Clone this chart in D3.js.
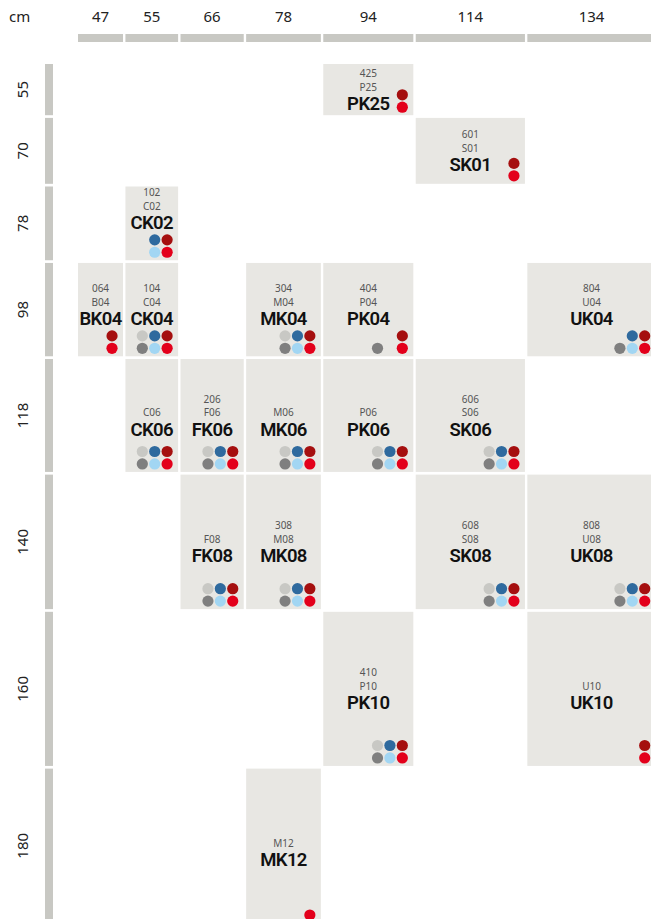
<!DOCTYPE html>
<html lang="en">
<head>
<meta charset="UTF-8">
<title>Sizes grid</title>
<script src="https://d3js.org/d3.v7.min.js"></script>
<style>
    body { margin: 0; background: #fff; font-family: "Noto Sans", sans-serif; }
    svg { display: block; }
</style>
</head>
<body>
<div id="chart"></div>
<script>
    // widths (columns) and heights (rows), in cm
    const colSizes = [47, 55, 66, 78, 94, 114, 134];
    const rowSizes = [55, 70, 78, 98, 118, 140, 160, 180];

    // one entry per cell
    const cellCol = [94, 114, 55, 47, 55, 78, 94, 134, 55, 66, 78, 94, 114, 66, 78, 114, 134, 94, 134, 78];
    const cellRow = [55, 70, 78, 98, 98, 98, 98, 98, 118, 118, 118, 118, 118, 140, 140, 140, 140, 160, 160, 180];
    const cellName = ["PK25", "SK01", "CK02", "BK04", "CK04", "MK04", "PK04", "UK04", "CK06", "FK06",
        "MK06", "PK06", "SK06", "FK08", "MK08", "SK08", "UK08", "PK10", "UK10", "MK12"];
    const cellCode = ["P25", "S01", "C02", "B04", "C04", "M04", "P04", "U04", "C06", "F06",
        "M06", "P06", "S06", "F08", "M08", "S08", "U08", "P10", "U10", "M12"];
    const cellNumber = ["425", "601", "102", "064", "104", "304", "404", "804", "", "206",
        "", "", "606", "", "308", "608", "808", "410", "", ""];
    // availability dots: [light grey, dark blue, dark red, dark grey, light blue, red]
    const cellDots = [
        [0, 0, 1, 0, 0, 1], [0, 0, 1, 0, 0, 1], [0, 1, 1, 0, 1, 1], [0, 0, 1, 0, 0, 1],
        [1, 1, 1, 1, 1, 1], [1, 1, 1, 1, 1, 1], [0, 0, 1, 1, 0, 1], [0, 1, 1, 1, 1, 1],
        [1, 1, 1, 1, 1, 1], [1, 1, 1, 1, 1, 1], [1, 1, 1, 1, 1, 1], [1, 1, 1, 1, 1, 1],
        [1, 1, 1, 1, 1, 1], [1, 1, 1, 1, 1, 1], [1, 1, 1, 1, 1, 1], [1, 1, 1, 1, 1, 1],
        [1, 1, 1, 1, 1, 1], [1, 1, 1, 1, 1, 1], [0, 0, 1, 0, 0, 1], [0, 0, 0, 0, 0, 1]
    ];

    const width = 651, height = 919;
    const x0 = 78, y0 = 64, colGap = 2.4, rowGap = 2.7;
    const dotColors = ["#c8c8c4", "#2f6a9e", "#a50f0f", "#7f7f7f", "#a2d6f3", "#e3001b"];

    const cmX = d3.scaleLinear().domain([0, 100]).range([0, 95.8]);
    const cmY = d3.scaleLinear().domain([0, 100]).range([0, 98]);

    // cumulative positions
    const colX = {}, rowY = {};
    let acc = x0;
    colSizes.forEach(c => { colX[c] = acc; acc += cmX(c) + colGap; });
    acc = y0;
    rowSizes.forEach(r => { rowY[r] = acc; acc += cmY(r); });
    const rowH = r => cmY(r) - rowGap;
    const visH = r => Math.min(rowH(r), height + 4 - rowY[r]);

    const svg = d3.select('#chart').append('svg')
        .attr('width', width)
        .attr('height', height);

    // header
    svg.append('text')
        .attr('x', 9).attr('y', 22)
        .attr('font-size', 15).attr('fill', '#222')
        .text('cm');

    const cols = svg.append('g').selectAll('g').data(colSizes).enter().append('g');
    cols.append('rect')
        .attr('x', d => colX[d]).attr('y', 34)
        .attr('width', d => cmX(d)).attr('height', 8)
        .attr('fill', '#c8c8c3');
    cols.append('text')
        .attr('x', d => colX[d] + cmX(d) / 2).attr('y', 22)
        .attr('text-anchor', 'middle')
        .attr('font-size', 15).attr('fill', '#222')
        .text(d => d);

    const rows = svg.append('g').selectAll('g').data(rowSizes).enter().append('g');
    rows.append('rect')
        .attr('x', 45).attr('y', d => rowY[d])
        .attr('width', 8).attr('height', d => rowH(d))
        .attr('fill', '#c8c8c3');
    rows.append('text')
        .attr('transform', d => `translate(28,${rowY[d] + visH(d) / 2}) rotate(-90)`)
        .attr('text-anchor', 'middle')
        .attr('font-size', 15).attr('fill', '#222')
        .text(d => d);

    // cells
    const cells = cellName.map((name, i) => ({
        name, code: cellCode[i], number: cellNumber[i], dots: cellDots[i],
        x: colX[cellCol[i]], y: rowY[cellRow[i]],
        w: cmX(cellCol[i]), h: visH(cellRow[i]), fullH: rowH(cellRow[i])
    }));

    const cellG = svg.append('g').selectAll('g').data(cells).enter().append('g');

    cellG.append('rect')
        .attr('x', d => d.x).attr('y', d => d.y)
        .attr('width', d => d.w).attr('height', d => d.fullH)
        .attr('fill', '#e8e7e3');

    const dotR = 5.6, dotStep = 12.4;
    cellG.each(function (d) {
        const g = d3.select(this);
        const right = d.x + d.w - 11;
        const bottom = d.y + d.h - 8;
        const dots = d.dots.map((on, k) => ({
            on, color: dotColors[k],
            cx: right - (2 - (k % 3)) * dotStep,
            cy: bottom - (k < 3 ? dotStep : 0)
        })).filter(p => p.on);

        g.selectAll('circle').data(dots).enter().append('circle')
            .attr('cx', p => p.cx).attr('cy', p => p.cy)
            .attr('r', dotR).attr('fill', p => p.color);

        const cx = d.x + d.w / 2;
        const big = g.append('text')
            .attr('x', cx)
            .attr('text-anchor', 'middle')
            .attr('font-family', 'Roboto, sans-serif')
            .attr('font-size', 18.5).attr('font-weight', 600)
            .attr('letter-spacing', -0.6).attr('fill', '#111')
            .text(d.name);
        const half = big.node().getComputedTextLength() / 2;
        let base = d.y + d.h / 2 + 20.5;
        const minDotX = d3.min(dots, p => p.cx - dotR);
        if (minDotX < cx + half + 3) base = Math.min(base, d.y + d.h - 31);
        big.attr('y', base);

        g.append('text')
            .attr('x', cx).attr('y', base - 19.5)
            .attr('text-anchor', 'middle')
            .attr('font-size', 10).attr('fill', '#555')
            .text(d.code);
        if (d.number) {
            g.append('text')
                .attr('x', cx).attr('y', base - 33.2)
                .attr('text-anchor', 'middle')
                .attr('font-size', 10).attr('fill', '#555')
                .text(d.number);
        }
    });
</script>
</body>
</html>
